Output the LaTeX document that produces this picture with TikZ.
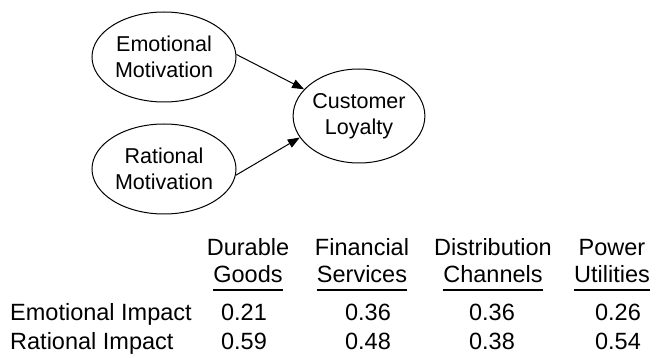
\documentclass[tikz,border=0pt]{standalone}
\usepackage{fontspec}
\setmainfont{Liberation Sans}
\usetikzlibrary{shapes.geometric,arrows.meta}

\tikzset{
  motive/.style={draw, ellipse, line width=1pt, inner sep=0pt, align=center,
    font=\fontsize{21.5}{25.5}\selectfont},
  cell/.style={anchor=base, inner sep=0pt, font=\fontsize{23.5}{27}\selectfont},
  link/.style={line width=1pt, -{Triangle[length=12pt,width=9pt]}}
}

\begin{document}
\begin{tikzpicture}[x=1pt,y=-1pt]
  \useasboundingbox (0,0) rectangle (661,358);
  % The two motivations and the loyalty they drive
  \node [motive, minimum width=144pt, minimum height=90pt] (emo) at (164,57) {Emotional\\Motivation};
  \node [motive, minimum width=144pt, minimum height=90pt] (rat) at (164,169) {Rational\\Motivation};
  \node [motive, minimum width=127pt, minimum height=94pt] (loyal) at (359,116) {Customer\\Loyalty};
  \draw [link] (emo.2) -- (loyal.154);
  \draw [link] (rat.-5) -- (loyal.200);

  % Row labels of the table
  \node [cell, anchor=base west] (emorow) at (10,320) {Emotional Impact};
  \node [cell, anchor=base west] (ratrow) at (10,349) {Rational Impact};

  % One column per industry: heading, underline, then the two impacts
  \foreach \n/\hx/\vx/\up/\low/\ev/\rv in {
    dur/248/244/Durable/Goods/0.21/0.59,
    fin/362/368/Financial/Services/0.36/0.48,
    dis/493/492/Distribution/Channels/0.36/0.38,
    pow/612/618/Power/Utilities/0.26/0.54} {
    \node [cell] (\n top) at (\hx,255) {\up};
    \node [cell] (\n bot) at (\hx,282) {\low};
    \draw [line width=2pt] ([yshift=-8pt]\n bot.base west) -- ([yshift=-8pt]\n bot.base east);
    \node [cell] (\n emo) at (\vx,320) {\ev};
    \node [cell] (\n rat) at (\vx,349) {\rv};
  }
\end{tikzpicture}
\end{document}
